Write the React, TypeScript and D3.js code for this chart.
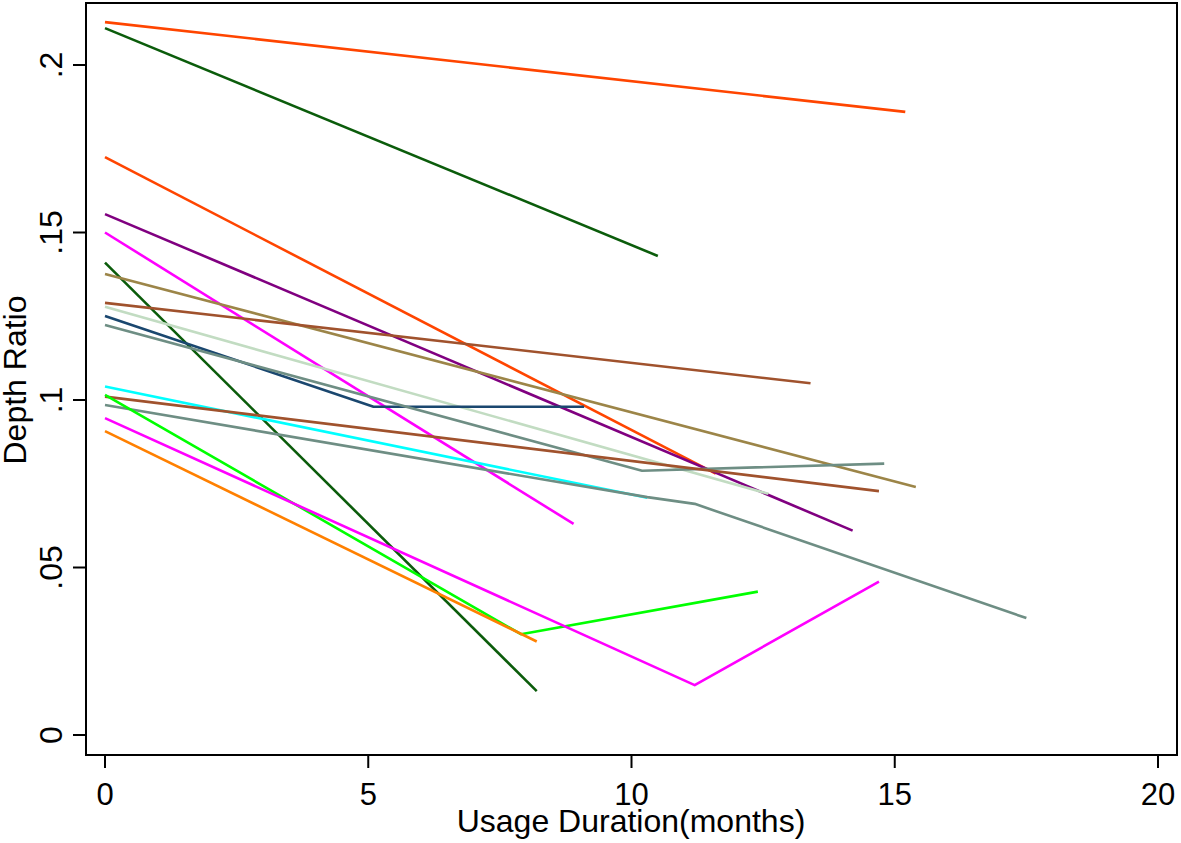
import React from "react";
import * as d3 from "d3";

// Each series: months and depth-ratio values
const seriesMonths: number[][] = [
  [0, 15.2],
  [0, 10.5],
  [0, 11.6],
  [0, 14.2],
  [0, 8.9],
  [0, 8.2],
  [0, 15.4],
  [0, 13.4],
  [0, 12.6],
  [0, 5.1, 9.1],
  [0, 10.2, 14.8],
  [0, 10.3],
  [0, 14.7],
  [0, 10.3, 11.2, 17.5],
  [0, 7.9, 12.4],
  [0, 11.2, 14.7],
  [0, 8.2],
];

const seriesValues: number[][] = [
  [0.2128, 0.186],
  [0.211, 0.143],
  [0.1725, 0.078],
  [0.1555, 0.061],
  [0.15, 0.063],
  [0.141, 0.0131],
  [0.1376, 0.074],
  [0.129, 0.105],
  [0.1278, 0.072],
  [0.1251, 0.098, 0.098],
  [0.1224, 0.0789, 0.081],
  [0.104, 0.0708],
  [0.101, 0.0728],
  [0.0985, 0.071, 0.069, 0.0349],
  [0.1015, 0.0301, 0.0428],
  [0.0946, 0.0149, 0.0458],
  [0.0907, 0.0279],
];

const seriesColors: string[] = [
  "#FF4500",
  "#0B5C0B",
  "#FF4500",
  "#800080",
  "#FF00FF",
  "#0B5C0B",
  "#9C8548",
  "#A0522D",
  "#C2DCC2",
  "#1A476F",
  "#6E8E84",
  "#00FFFF",
  "#A0522D",
  "#6E8E84",
  "#00FF00",
  "#FF00FF",
  "#FF8000",
];

const xTicks = [0, 5, 10, 15, 20];
const yTicks = [0, 0.05, 0.1, 0.15, 0.2];
const yTickLabels = ["0", ".05", ".1", ".15", ".2"];

const W = 1181;
const H = 843;
const frame = { left: 86, top: 3, right: 1177, bottom: 755 };

export default function App() {
  const x = d3.scaleLinear().domain([0, 20]).range([105, 1158]);
  const y = d3.scaleLinear().domain([0, 0.2]).range([735, 65]);
  const line = d3
    .line<[number, number]>()
    .x((d) => x(d[0]))
    .y((d) => y(d[1]));
  const font = "'Liberation Sans', Arial, sans-serif";

  return (
    <svg
      width={W}
      height={H}
      style={{ position: "absolute", left: 0, top: 0, background: "#fff" }}
    >
      <rect x={0} y={0} width={W} height={H} fill="#fff" />
      {seriesMonths.map((ms, i) => (
        <path
          key={i}
          d={line(ms.map((m, j) => [m, seriesValues[i][j]]) as [number, number][]) || ""}
          fill="none"
          stroke={seriesColors[i]}
          strokeWidth={2.6}
          strokeLinejoin="round"
        />
      ))}
      <rect
        x={frame.left}
        y={frame.top}
        width={frame.right - frame.left}
        height={frame.bottom - frame.top}
        fill="none"
        stroke="#000"
        strokeWidth={2}
      />
      {xTicks.map((t) => (
        <g key={t}>
          <line x1={x(t)} x2={x(t)} y1={frame.bottom} y2={frame.bottom + 13} stroke="#000" strokeWidth={2} />
          <text x={x(t)} y={805} textAnchor="middle" fontFamily={font} fontSize={31} fill="#000">
            {t}
          </text>
        </g>
      ))}
      {yTicks.map((t, i) => (
        <g key={t}>
          <line x1={frame.left - 13} x2={frame.left} y1={y(t)} y2={y(t)} stroke="#000" strokeWidth={2} />
          <text
            transform={`translate(62,${y(t)}) rotate(-90)`}
            textAnchor="middle"
            fontFamily={font}
            fontSize={32}
            fill="#000"
          >
            {yTickLabels[i]}
          </text>
        </g>
      ))}
      <text x={631} y={832} textAnchor="middle" fontFamily={font} fontSize={32} fill="#000">
        Usage Duration(months)
      </text>
      <text
        transform={`translate(26,380) rotate(-90)`}
        textAnchor="middle"
        fontFamily={font}
        fontSize={32}
        fill="#000"
      >
        Depth Ratio
      </text>
    </svg>
  );
}
